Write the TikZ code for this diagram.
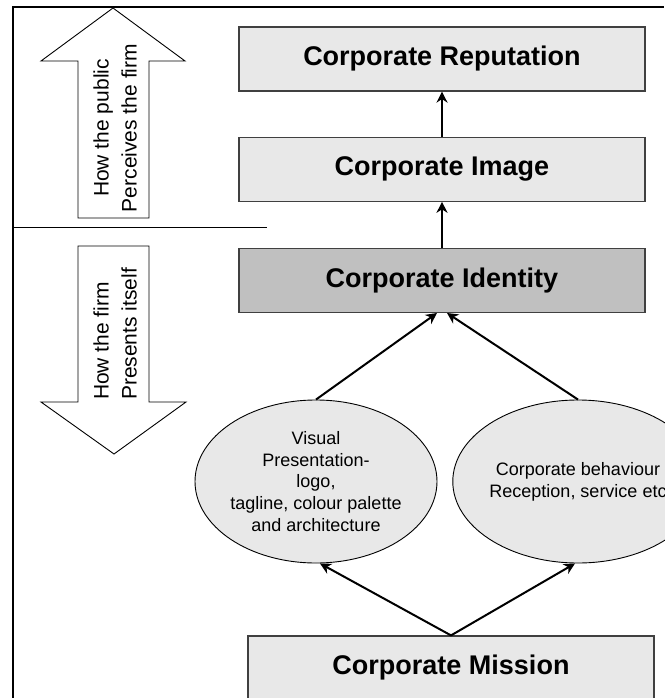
\documentclass[tikz,border=0pt]{standalone}
\usepackage{fontspec}
\setmainfont{Liberation Sans}
\usetikzlibrary{arrows.meta,calc,positioning,shapes.geometric}
\definecolor{boxgray}{HTML}{E8E8E8}
\definecolor{idgray}{HTML}{C0C0C0}
\definecolor{edgegray}{HTML}{404040}

\begin{document}
\begin{tikzpicture}[
  x=1pt, y=-1pt,
  box/.style={draw=edgegray, line width=1.2pt, fill=boxgray, minimum width=406pt, minimum height=64pt, font=\fontsize{27}{32}\selectfont\bfseries},
  oval/.style={ellipse, draw, line width=0.9pt, fill=boxgray, minimum width=190pt, minimum height=163pt, inner sep=0pt, align=center, font=\fontsize{18}{21.7}\selectfont},
  arrow/.style={-{Stealth[length=11pt, width=11pt, inset=3.5pt]}, line width=2pt},
  bigarrow/.style={draw, line width=0.9pt, fill=white},
  side/.style={rotate=90, font=\fontsize{21}{28}\selectfont},
]
\useasboundingbox (0,0) rectangle (664,698);
% frame and divider
\draw[line width=2.3pt] (13,698) -- (13,7) -- (664,7);
\draw[line width=1pt] (13,227) -- (267,227);

\node[box] (rep) at (442,59) {Corporate Reputation};
\node[box, below=45pt of rep] (img) {Corporate Image};
\node[box, fill=idgray, below=46pt of img] (ident) {Corporate Identity};

\node[oval] (visual) at (316,481.5) {Visual\\Presentation-\\logo,\\tagline, colour palette\\and architecture};
\node[oval] (behav) at (578,481.5) {Corporate behaviour\\Reception, service etc};

\node[box] (mission) at (451,668) {Corporate Mission};

\draw[arrow] (img) -- (rep);
\draw[arrow] (ident) -- (img);
\draw[arrow] (visual.north) -- ([xshift=-5pt]ident.south);
\draw[arrow] (behav.north) -- ([xshift=5pt]ident.south);
\draw[arrow] (mission.north) -- ([xshift=4pt]visual.south);
\draw[arrow] (mission.north) -- ([xshift=-3pt]behav.south);

% side arrows
\draw[bigarrow] (113,8) -- (185,61) -- (149,61) -- (149,218) -- (78,218) -- (78,61) -- (41,61) -- cycle;
\node[side, align=center] (public) at (115,128) {How the public\\Perceives the firm};
\draw[bigarrow] (78,246) -- (149,246) -- (149,402) -- (186,402) -- (114,454) -- (41,402) -- (78,402) -- cycle;
\node[side, align=left] (self) at (115,334) {How the firm\\Presents itself};
\end{tikzpicture}
\end{document}
